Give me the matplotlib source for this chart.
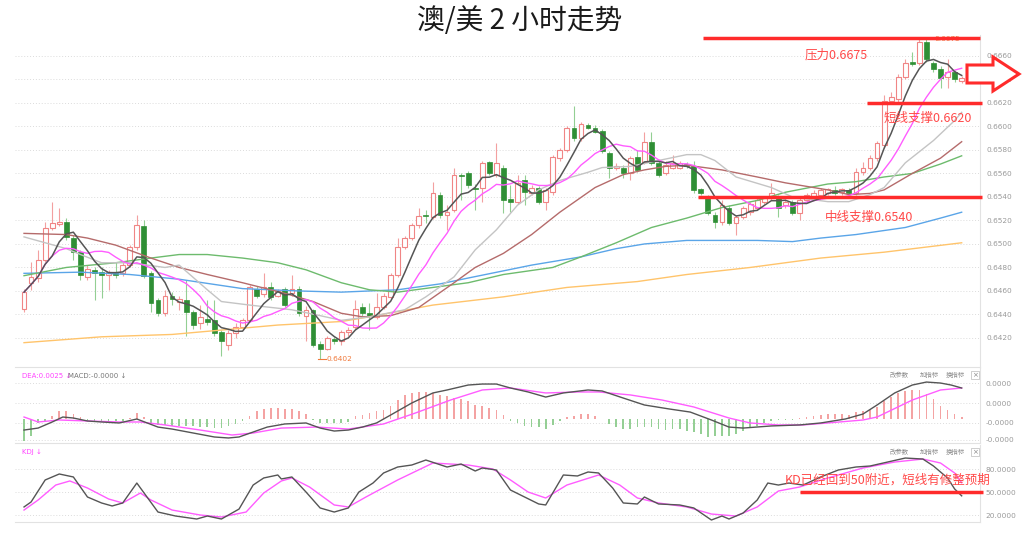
import numpy as np
import pandas as pd
import matplotlib
matplotlib.use("Agg")
import matplotlib.pyplot as plt
from matplotlib.patches import Rectangle, Polygon

plt.rcParams['font.family'] = ['Noto Sans CJK SC', 'DejaVu Sans']

# ---------------- data: AUD/USD 2H candles ----------------
opens = [0.6445, 0.6467, 0.6471, 0.6486, 0.6514, 0.6517, 0.6519, 0.6505, 0.6493, 0.6472,
         0.6478, 0.6476, 0.6474, 0.6476, 0.6475, 0.6482, 0.6497, 0.6515, 0.6475, 0.6452,
         0.6441, 0.6456, 0.6451, 0.6452, 0.6442, 0.6433, 0.6436, 0.6435, 0.6425, 0.6414,
         0.6424, 0.6429, 0.6435, 0.6462, 0.6457, 0.6463, 0.6456, 0.6462, 0.6458, 0.6462,
         0.6439, 0.6444, 0.6415, 0.6411, 0.6419, 0.6417, 0.6425, 0.6429, 0.6446, 0.6441,
         0.6438, 0.6446, 0.6455, 0.6474, 0.6497, 0.6505, 0.6516, 0.6525, 0.6523, 0.6542,
         0.6525, 0.6529, 0.6559, 0.6560, 0.6548, 0.6548, 0.6570, 0.6559, 0.6565, 0.6538,
         0.6536, 0.6554, 0.6543, 0.6548, 0.6536, 0.6544, 0.6573, 0.6580, 0.6599, 0.6590,
         0.6601, 0.6599, 0.6596, 0.6577, 0.6565, 0.6565, 0.6560, 0.6574, 0.6570, 0.6587,
         0.6569, 0.6560, 0.6565, 0.6565, 0.6568, 0.6566, 0.6547, 0.6540, 0.6525, 0.6519,
         0.6531, 0.6518, 0.6523, 0.6527, 0.6531, 0.6536, 0.6539, 0.6539, 0.6533, 0.6536,
         0.6526, 0.6537, 0.6540, 0.6542, 0.6543, 0.6546, 0.6544, 0.6546, 0.6543, 0.6561,
         0.6565, 0.6573, 0.6584, 0.6622, 0.6623, 0.6642, 0.6655, 0.6654, 0.6672, 0.6654,
         0.6649, 0.6642, 0.6646, 0.6639]
highs = [0.6462, 0.6485, 0.6495, 0.6519, 0.6536, 0.6531, 0.6522, 0.6508, 0.6495, 0.6482,
         0.6480, 0.6480, 0.6478, 0.6485, 0.6485, 0.6499, 0.6525, 0.6520, 0.6477, 0.6454,
         0.6461, 0.6459, 0.6456, 0.6469, 0.6444, 0.6448, 0.6452, 0.6452, 0.6427, 0.6427,
         0.6433, 0.6437, 0.6465, 0.6464, 0.6475, 0.6468, 0.6462, 0.6463, 0.6474, 0.6464,
         0.6447, 0.6445, 0.6417, 0.6422, 0.6421, 0.6427, 0.6429, 0.6452, 0.6450, 0.6450,
         0.6458, 0.6458, 0.6475, 0.6505, 0.6507, 0.6518, 0.6531, 0.6529, 0.6553, 0.6544,
         0.6533, 0.6565, 0.6560, 0.6562, 0.6551, 0.6571, 0.6571, 0.6586, 0.6567, 0.6550,
         0.6559, 0.6559, 0.6550, 0.6549, 0.6548, 0.6576, 0.6582, 0.6600, 0.6617, 0.6604,
         0.6603, 0.6601, 0.6598, 0.6579, 0.6569, 0.6567, 0.6575, 0.6580, 0.6595, 0.6595,
         0.6571, 0.6571, 0.6576, 0.6571, 0.6570, 0.6571, 0.6548, 0.6542, 0.6527, 0.6537,
         0.6533, 0.6525, 0.6532, 0.6536, 0.6539, 0.6541, 0.6552, 0.6542, 0.6538, 0.6537,
         0.6539, 0.6543, 0.6546, 0.6548, 0.6548, 0.6549, 0.6548, 0.6548, 0.6565, 0.6570,
         0.6576, 0.6588, 0.6627, 0.6629, 0.6645, 0.6657, 0.6663, 0.6674, 0.6675, 0.6656,
         0.6651, 0.6657, 0.6648, 0.6643]
lows = [0.6442, 0.6461, 0.6468, 0.6485, 0.6512, 0.6515, 0.6503, 0.6486, 0.6469, 0.6469,
        0.6452, 0.6454, 0.6461, 0.6471, 0.6473, 0.6480, 0.6495, 0.6471, 0.6442, 0.6439,
        0.6439, 0.6448, 0.6444, 0.6422, 0.6428, 0.6428, 0.6431, 0.6422, 0.6405, 0.6410,
        0.6420, 0.6427, 0.6434, 0.6454, 0.6455, 0.6452, 0.6455, 0.6446, 0.6456, 0.6439,
        0.6417, 0.6412, 0.6402, 0.6410, 0.6415, 0.6414, 0.6422, 0.6428, 0.6439, 0.6427,
        0.6436, 0.6445, 0.6453, 0.6472, 0.6496, 0.6503, 0.6514, 0.6518, 0.6521, 0.6522,
        0.6512, 0.6527, 0.6537, 0.6548, 0.6529, 0.6536, 0.6559, 0.6557, 0.6526, 0.6527,
        0.6534, 0.6533, 0.6542, 0.6534, 0.6529, 0.6542, 0.6571, 0.6578, 0.6588, 0.6588,
        0.6598, 0.6594, 0.6577, 0.6556, 0.6563, 0.6556, 0.6554, 0.6561, 0.6568, 0.6567,
        0.6557, 0.6559, 0.6564, 0.6564, 0.6565, 0.6543, 0.6542, 0.6525, 0.6514, 0.6516,
        0.6516, 0.6508, 0.6521, 0.6525, 0.6530, 0.6534, 0.6537, 0.6523, 0.6531, 0.6525,
        0.6520, 0.6536, 0.6538, 0.6540, 0.6542, 0.6542, 0.6542, 0.6542, 0.6542, 0.6559,
        0.6563, 0.6571, 0.6582, 0.6620, 0.6621, 0.6640, 0.6651, 0.6652, 0.6655, 0.6646,
        0.6633, 0.6633, 0.6638, 0.6637]
closes = [0.6459, 0.6472, 0.6486, 0.6514, 0.6518, 0.6519, 0.6506, 0.6493, 0.6474, 0.6479,
          0.6475, 0.6474, 0.6476, 0.6474, 0.6482, 0.6497, 0.6516, 0.6473, 0.6450, 0.6441,
          0.6456, 0.6453, 0.6453, 0.6442, 0.6431, 0.6438, 0.6434, 0.6424, 0.6417, 0.6424,
          0.6429, 0.6435, 0.6463, 0.6456, 0.6463, 0.6455, 0.6460, 0.6448, 0.6462, 0.6441,
          0.6444, 0.6414, 0.6411, 0.6420, 0.6417, 0.6425, 0.6427, 0.6445, 0.6441, 0.6439,
          0.6446, 0.6456, 0.6474, 0.6497, 0.6505, 0.6516, 0.6524, 0.6524, 0.6543, 0.6525,
          0.6527, 0.6559, 0.6558, 0.6550, 0.6547, 0.6569, 0.6560, 0.6569, 0.6537, 0.6536,
          0.6552, 0.6544, 0.6548, 0.6536, 0.6546, 0.6574, 0.6580, 0.6599, 0.6590, 0.6602,
          0.6599, 0.6595, 0.6579, 0.6565, 0.6566, 0.6560, 0.6573, 0.6563, 0.6587, 0.6569,
          0.6559, 0.6567, 0.6569, 0.6569, 0.6566, 0.6546, 0.6543, 0.6526, 0.6519, 0.6533,
          0.6518, 0.6523, 0.6531, 0.6534, 0.6537, 0.6539, 0.6543, 0.6531, 0.6536, 0.6526,
          0.6537, 0.6542, 0.6543, 0.6546, 0.6547, 0.6543, 0.6547, 0.6543, 0.6561, 0.6565,
          0.6573, 0.6586, 0.6622, 0.6625, 0.6642, 0.6654, 0.6653, 0.6672, 0.6657, 0.6649,
          0.6641, 0.6646, 0.6640, 0.6641]

# longer moving averages (bar index, price)
ma20_idx = [0, 3, 6, 8, 11, 15, 20, 22, 26, 28, 32, 38, 42, 45, 49, 54, 57, 61, 64, 67, 70,
            73, 76, 80, 82, 86, 90, 94, 96, 98, 101, 106, 109, 114, 117, 120, 122, 125, 129, 132, 133]
ma20_val = [0.6506, 0.6501, 0.6496, 0.6491, 0.6484, 0.6484, 0.6480, 0.6482, 0.6461, 0.6451,
            0.6448, 0.6444, 0.6439, 0.6435, 0.6438, 0.6444, 0.6455, 0.6472, 0.6495, 0.6512,
            0.6533, 0.6546, 0.6554, 0.6561, 0.6565, 0.6566, 0.6571, 0.6576, 0.6576, 0.6571,
            0.6557, 0.6548, 0.6540, 0.6536, 0.6536, 0.6542, 0.6548, 0.6569, 0.6588, 0.6605, 0.6612]
ma30_idx = [0, 6, 9, 13, 18, 22, 26, 31, 37, 41, 45, 48, 52, 56, 61, 64, 68, 72, 76, 81, 85,
            88, 91, 94, 99, 104, 108, 114, 117, 120, 122, 126, 130, 133]
ma30_val = [0.6509, 0.6508, 0.6505, 0.6499, 0.6488, 0.6480, 0.6474, 0.6467, 0.6458, 0.6451,
            0.6441, 0.6438, 0.6439, 0.6446, 0.6467, 0.6480, 0.6492, 0.6508, 0.6527, 0.6548,
            0.6559, 0.6563, 0.6566, 0.6567, 0.6563, 0.6557, 0.6552, 0.6546, 0.6542, 0.6543,
            0.6546, 0.6560, 0.6573, 0.6587]
ma60_idx = [0, 6, 13, 18, 22, 26, 31, 36, 40, 45, 49, 53, 58, 63, 68, 75, 79, 84, 89, 94, 99,
            104, 108, 114, 118, 122, 126, 130, 133]
ma60_val = [0.6473, 0.6480, 0.6484, 0.6488, 0.6491, 0.6491, 0.6488, 0.6484, 0.6478, 0.6467,
            0.6461, 0.6459, 0.6463, 0.6467, 0.6474, 0.6480, 0.6489, 0.6501, 0.6514, 0.6522,
            0.6531, 0.6537, 0.6544, 0.6551, 0.6553, 0.6557, 0.6560, 0.6568, 0.6575]
ma120_idx = [0, 8, 15, 22, 31, 39, 45, 53, 59, 63, 72, 79, 84, 88, 92, 94, 104, 109, 113, 118,
             125, 130, 133]
ma120_val = [0.6475, 0.6476, 0.6474, 0.6470, 0.6462, 0.6460, 0.6459, 0.6461, 0.6466, 0.6471,
             0.6482, 0.6489, 0.6496, 0.6500, 0.6502, 0.6503, 0.6503, 0.6502, 0.6505, 0.6508,
             0.6514, 0.6522, 0.6527]
ma250_idx = [0, 11, 21, 36, 45, 49, 58, 68, 77, 87, 94, 103, 113, 122, 133]
ma250_val = [0.6416, 0.6421, 0.6423, 0.6431, 0.6434, 0.6438, 0.6448, 0.6455, 0.6463, 0.6468,
             0.6474, 0.6480, 0.6488, 0.6493, 0.6501]

# MACD (values in units of 0.0001)
macd_hist = [-17.5, -13.4, -3.2, -1.9, 2.7, 6.2, 6.2, 4.3, 1.3, -1.9,
             -1.9, -1.9, -1.9, -1.9, -1.9, 0.8, 4.8, 1.3, -3.2, -4.6,
             -4.6, -5.4, -5.4, -5.9, -5.9, -6.7, -6.7, -7.3, -7.3, -5.9,
             -4.0, -1.9, 2.7, 6.2, 8.1, 8.9, 8.9, 8.1, 8.1, 6.2,
             4.3, -0.8, -3.2, -3.2, -3.2, -3.2, -2.2, 2.2, 3.5, 4.8,
             6.2, 7.5, 10.8, 15.1, 19.6, 21.0, 21.5, 21.5, 21.0, 19.6,
             18.3, 16.9, 16.1, 14.2, 11.6, 10.2, 8.9, 7.5, 3.5, -1.9,
             -3.5, -5.4, -6.7, -6.7, -8.1, -4.8, -1.3, 1.9, 2.7, 4.0,
             4.0, 2.7, 0.0, -4.0, -6.7, -8.1, -8.1, -6.7, -6.7, -6.7,
             -8.1, -8.9, -8.1, -8.1, -9.9, -10.8, -12.1, -14.2, -13.4, -13.4,
             -13.4, -12.1, -9.4, -6.7, -5.4, -3.5, -1.3, -0.8, -0.8, -0.5,
             0.8, 1.9, 2.7, 3.5, 4.0, 4.0, 4.0, 3.2, 5.4, 6.2,
             7.3, 9.4, 14.8, 17.5, 20.7, 22.8, 23.4, 23.4, 20.2, 16.1,
             10.8, 7.3, 4.0, 1.3]
dif_idx = [0, 2, 4, 5.5, 7, 9, 11, 13.5, 16, 19, 21, 24, 27, 29, 30.5, 32.5, 34.5, 37, 40, 42,
           44, 46, 48, 50, 52, 55, 58, 60, 63, 65, 67, 69, 71.5, 74, 76.5, 80, 82, 85, 88, 91.5,
           94.5, 97.5, 100, 102, 106, 110, 113, 116.5, 119, 121, 123.5, 126, 128, 130, 131.5, 133]
dif_val = [-8.9, -7.3, -2.4, 1.6, 0.8, -1.6, -2.4, -3.2, 0.0, -6.5, -8.1, -11.3, -14.5, -15.3,
           -14.5, -10.5, -6.5, -4.0, -3.2, -7.3, -9.7, -8.9, -6.5, -3.2, 3.2, 12.9, 21.0, 23.4,
           27.4, 28.2, 28.2, 25.0, 21.8, 17.7, 21.0, 23.4, 22.6, 16.9, 11.3, 8.1, 5.6, -0.8,
           -6.5, -7.3, -5.6, -4.8, -3.2, 0.0, 4.0, 11.3, 21.0, 27.4, 29.8, 29.0, 27.4, 25.0]
dea_idx = [0, 2, 5, 9, 13.5, 16.5, 20, 25, 29.5, 32.5, 36.5, 41.5, 46, 51, 55.5, 60.5, 65, 69,
           74, 78.5, 81.5, 86, 90.5, 95, 100, 103, 107, 110.5, 114, 119, 121, 126, 130, 133]
dea_val = [1.6, -2.4, -0.8, -1.6, -2.4, -2.4, -4.8, -8.9, -12.9, -11.3, -7.3, -6.5, -8.1, -4.0,
           4.8, 15.3, 23.4, 25.0, 21.0, 21.8, 21.8, 19.4, 15.3, 9.7, 0.8, -3.2, -4.8, -4.8,
           -3.2, -0.8, 1.6, 15.3, 23.4, 25.0]

# KD
k_idx = [0, 1, 3, 5, 7, 9, 11, 12.5, 14, 16, 19, 21.5, 24.5, 26, 28, 30.5, 32.5, 34, 36, 36.5,
         38, 40, 42, 44, 46, 47.5, 49.5, 51, 53, 55, 57, 60, 62, 64, 65, 67, 69, 71, 73, 74,
         76.5, 78.5, 80, 81.5, 83.5, 85, 87, 88, 90, 93, 95, 97.5, 99, 100, 102, 104, 105.5,
         107, 108.5, 110.5, 113, 115.5, 118, 120, 122.5, 125, 127.5, 129, 131, 132, 133]
k_val = [30.5, 37.0, 65.7, 73.5, 69.6, 43.5, 35.7, 31.8, 35.7, 61.7, 23.9, 18.7, 14.8, 18.7,
         14.8, 27.8, 59.1, 68.3, 72.2, 67.0, 69.6, 50.0, 29.2, 23.9, 29.2, 50.0, 61.7, 74.8,
         82.6, 85.2, 91.7, 82.6, 86.5, 77.4, 81.3, 78.7, 52.6, 43.5, 34.4, 33.1, 72.2, 70.9,
         76.1, 74.8, 55.2, 35.7, 34.4, 43.5, 34.4, 33.1, 29.2, 13.5, 18.7, 14.8, 22.6, 39.6,
         61.7, 59.1, 61.7, 59.1, 69.6, 78.7, 82.6, 83.9, 89.1, 94.3, 93.0, 83.9, 68.3, 54.0, 45.0]
d_idx = [0, 2, 4.5, 6.5, 9, 12, 14, 16.5, 18, 21, 25, 28, 31.5, 34, 36.5, 38, 40.5, 44, 46,
         48.5, 53, 58, 63, 66.5, 69, 71.5, 74, 77, 81.5, 84.5, 87, 90, 94, 97.5, 101, 104, 107,
         110, 114, 119, 123.5, 127.5, 130, 132, 133]
d_val = [26.5, 39.6, 59.1, 64.4, 55.2, 40.9, 35.7, 48.7, 39.6, 26.5, 20.0, 17.4, 23.9, 48.7,
         64.4, 68.3, 56.5, 33.1, 30.5, 43.5, 65.7, 87.8, 85.2, 80.0, 65.7, 50.0, 42.2, 59.1,
         72.2, 59.1, 42.2, 35.7, 30.5, 21.3, 18.7, 30.5, 51.3, 56.5, 68.3, 81.3, 89.1, 93.0,
         87.8, 74.8, 62.0]

price_ticks = [0.6420, 0.6440, 0.6460, 0.6480, 0.6500, 0.6520, 0.6540, 0.6560, 0.6580,
               0.6600, 0.6620, 0.6640, 0.6660]
pressure, short_support, mid_support = 0.6675, 0.6620, 0.6540
low_price, high_price = 0.6402, 0.6675
low_bar, high_bar = 42, 128

# ---------------- figure ----------------
W, H = 1024, 542
fig = plt.figure(figsize=(W / 100, H / 100), dpi=100, facecolor='white')


def fx(px):
    return px / W


def fy(py):
    return 1 - py / H


LEFT, RIGHT = 15, 980
ax = fig.add_axes([fx(LEFT), fy(367), fx(RIGHT) - fx(LEFT), fy(35) - fy(367)])
ax2 = fig.add_axes([fx(LEFT), fy(443), fx(RIGHT) - fx(LEFT), fy(368) - fy(443)])
ax3 = fig.add_axes([fx(LEFT), fy(522), fx(RIGHT) - fx(LEFT), fy(445) - fy(522)])

n = len(closes)
x = np.arange(n)
xlim = (-1.28, 135.6)
SP = '#e2e2e2'
GRID = dict(color='#dcdcdc', lw=0.7, ls=(0, (1, 2)))

for a in (ax, ax2, ax3):
    a.set_xlim(*xlim)
    a.set_xticks([])
    a.yaxis.tick_right()
    a.tick_params(axis='y', length=0, labelsize=5.3, labelcolor='#9a9a9a', pad=4)
    for s in ('top', 'left'):
        a.spines[s].set_visible(False)
    for s in ('right', 'bottom'):
        a.spines[s].set_color(SP)
        a.spines[s].set_linewidth(0.8)
    a.set_facecolor('none')

# ---------------- main panel ----------------
ax.set_ylim(0.63953, 0.66778)
ax.set_yticks(price_ticks)
ax.set_yticklabels([f"{v:.4f}" for v in price_ticks], family='DejaVu Sans')
ax.tick_params(axis='y', pad=5)
ax.grid(axis='y', **GRID)

RED_BODY = '#f08585'
RED_WICK = '#f3a0a0'
GRN_BODY = '#2f8f35'
GRN_WICK = '#93cf93'
bw = 0.68
for i in range(n):
    o, h, l, c = opens[i], highs[i], lows[i], closes[i]
    up = c >= o
    ax.vlines(i, l, h, color=RED_WICK if up else GRN_WICK, lw=0.8, zorder=2)
    lo_b = min(o, c)
    hb = max(abs(c - o), 0.00002)
    if up:
        ax.add_patch(Rectangle((i - bw / 2, lo_b), bw, hb, facecolor='white',
                               edgecolor=RED_BODY, lw=0.8, zorder=3))
    else:
        ax.add_patch(Rectangle((i - bw / 2, lo_b), bw, hb, facecolor=GRN_BODY,
                               edgecolor=GRN_BODY, lw=0.5, zorder=3))

cs = pd.Series(closes)
ma5 = cs.rolling(5, min_periods=1).mean()
ma10 = cs.rolling(10, min_periods=1).mean()
ax.plot(ma250_idx, ma250_val, color='#ffc46b', lw=1.0, zorder=4)
ax.plot(ma120_idx, ma120_val, color='#5aa5e8', lw=1.0, zorder=4)
ax.plot(ma60_idx, ma60_val, color='#6dbb6d', lw=1.0, zorder=4)
ax.plot(ma30_idx, ma30_val, color='#b56b6b', lw=1.0, zorder=4)
ax.plot(ma20_idx, ma20_val, color='#c4c4c4', lw=1.0, zorder=4)
ax.plot(x, ma10, color='#ff5cff', lw=1.0, zorder=5)
ax.plot(x, ma5, color='#555555', lw=1.1, zorder=5)

# low / high markers
ORG = '#f07a3c'
ax.plot([low_bar - 0.3, low_bar + 0.8], [low_price, low_price], color=ORG, lw=0.8, zorder=6)
ax.text(low_bar + 0.95, low_price, f"{low_price:.4f}", color=ORG, fontsize=5.3,
        va='center', ha='left', family='DejaVu Sans', zorder=6)
ax.plot([high_bar + 0.3, high_bar + 1.1], [high_price - 0.00005, high_price - 0.00005],
        color=ORG, lw=0.8, zorder=6)
ax.text(high_bar + 1.2, high_price - 0.00005, f"{high_price:.4f}", color=ORG, fontsize=5.3,
        va='center', ha='left', family='DejaVu Sans', zorder=6)

# support / resistance lines
RED = '#ff2b2b'
ax.plot([96.3, 135.6], [pressure, pressure], color=RED, lw=2.5, clip_on=False, zorder=10,
        solid_capstyle='butt')
ax.plot([119.6, 135.9], [short_support, short_support], color=RED, lw=2.5, clip_on=False,
        zorder=10, solid_capstyle='butt')
ax.plot([95.6, 135.9], [mid_support, mid_support], color=RED, lw=2.5, clip_on=False,
        zorder=10, solid_capstyle='butt')

TXT = '#ff4a4a'
fig.text(fx(836), fy(55), f"压力{pressure:.4f}", color=TXT, fontsize=9, ha='center', va='center')
fig.text(fx(928), fy(118), f"短线支撑{short_support:.4f}", color=TXT, fontsize=9,
         ha='center', va='center')
fig.text(fx(869), fy(217), f"中线支撑{mid_support:.4f}", color=TXT, fontsize=9,
         ha='center', va='center')

# hollow arrow
arrow_px = [(967, 65), (993, 65), (993, 57), (1019, 74), (993, 91), (993, 83), (967, 83)]
fig.add_artist(Polygon([(fx(a), fy(b)) for a, b in arrow_px], closed=True, facecolor='white',
                       edgecolor=RED, lw=2.2, transform=fig.transFigure, zorder=12))

# ---------------- MACD panel ----------------
ax2.set_ylim(-19.35, 41.13)
ax2.set_yticks([29.0, 12.9, -3.2, -16.9])
ax2.set_yticklabels(['0.0000', '0.0000', '-0.0000', '-0.0000'], family='DejaVu Sans')
ax2.grid(axis='y', **GRID)
hist_colors = ['#f4a3a3' if v > 0 else '#95cf95' for v in macd_hist]
ax2.bar(x, macd_hist, width=0.24, color=hist_colors, zorder=2)
ax2.plot(dea_idx, dea_val, color='#ff5cff', lw=1.0, zorder=3)
ax2.plot(dif_idx, dif_val, color='#555555', lw=1.0, zorder=3)

fig.text(fx(22), fy(375.5), f"DEA:{dea_val[-1] / 10000:.4f} ↓", color='#ff44ff', fontsize=5,
         ha='left', va='center', family='DejaVu Sans')
fig.text(fx(68), fy(375.5), "MACD:-0.0000 ↓", color='#777777', fontsize=5,
         ha='left', va='center', family='DejaVu Sans')

# ---------------- KD panel ----------------
ax3.set_ylim(10.9, 111.3)
ax3.set_yticks([80, 50, 20])
ax3.set_yticklabels(['80.0000', '50.0000', '20.0000'], family='DejaVu Sans')
ax3.grid(axis='y', **GRID)
ax3.plot(d_idx, d_val, color='#ff5cff', lw=1.0, zorder=3)
ax3.plot(k_idx, k_val, color='#555555', lw=1.0, zorder=3)
fig.text(fx(22), fy(452), "KDJ ↓", color='#ff44ff', fontsize=5, ha='left', va='center',
         family='DejaVu Sans')

ax3.plot([110.1, 136.0], [50, 50], color=RED, lw=2.5, clip_on=False, zorder=10,
         solid_capstyle='butt')
fig.text(fx(888), fy(480), "KD已经回到50附近，短线有修整预期", color=TXT, fontsize=9,
         ha='center', va='center', zorder=11)

# indicator buttons
for ybtn in (375, 452):
    for label, xc in (("改参数", 899), ("加指标", 929), ("换指标", 955)):
        fig.text(fx(xc), fy(ybtn), label, color='#8a8a8a', fontsize=4.6, ha='center', va='center')
    fig.add_artist(Rectangle((fx(971), fy(ybtn + 4)), fx(8), 8 / H, facecolor='white',
                             edgecolor='#bbbbbb', lw=0.5, transform=fig.transFigure))
    fig.text(fx(975), fy(ybtn), "×", color='#888888', fontsize=5, ha='center', va='center',
             family='DejaVu Sans')

# title
fig.text(fx(520), fy(21), "澳/美 2 小时走势", fontsize=20, ha='center', va='center',
         color='#1a1a1a')

fig.savefig('out.png', dpi=100, facecolor='white')
